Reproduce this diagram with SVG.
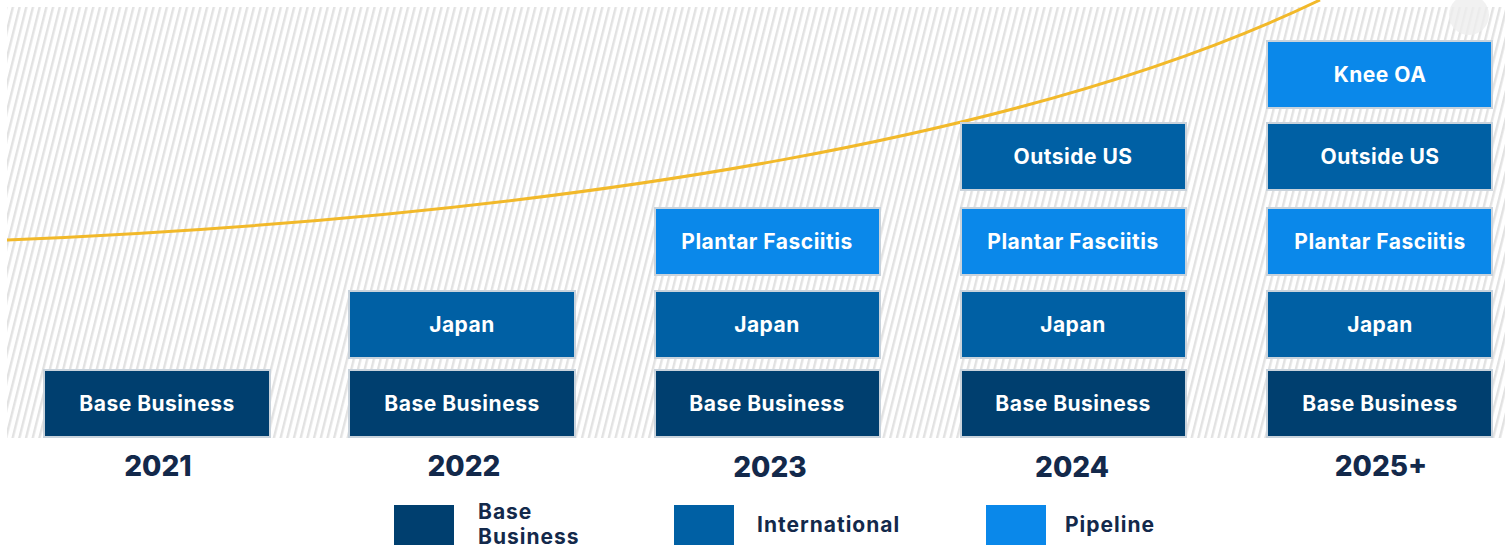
<svg xmlns="http://www.w3.org/2000/svg" width="1505" height="548" viewBox="0 0 1505 548">
<defs>
<pattern id="hatch" patternUnits="userSpaceOnUse" width="6.5" height="6.5" patternTransform="rotate(14)">
<rect width="6.5" height="6.5" fill="#ffffff"/>
<rect x="0" y="0" width="2.4" height="6.5" fill="#e2e2e2"/>
</pattern>
<style>
.box{stroke:#c9d3dc;stroke-width:2}
.base{fill:#003f6f}
.intl{fill:#0060a4}
.pipe{fill:#0a88ea}
.lbl{font-family:"Inter","Liberation Sans",sans-serif;font-weight:700;font-size:21px;letter-spacing:0.5px;fill:#ffffff;text-anchor:middle}
.year{font-family:"Inter","Liberation Sans",sans-serif;font-weight:800;font-size:28px;fill:#13294b;text-anchor:middle}
.leg{font-family:"Inter","Liberation Sans",sans-serif;font-weight:700;font-size:21px;letter-spacing:1px;fill:#13294b}
</style>
</defs>
<rect width="1505" height="548" fill="#ffffff"/>
<rect x="7" y="7" width="1498" height="431" fill="url(#hatch)"/>
<circle cx="1469" cy="15" r="20" fill="#eeeeee" opacity="0.8"/>
<g id="connectors">
<path d="M7,240 C600,215 1050,130 1320,0" fill="none" stroke="#f2b92a" stroke-width="3"/>
</g>
<g id="y2021">
<g id="n2021-base"><rect class="box base" x="44" y="370" width="226" height="67"/><text class="lbl" x="157" y="411">Base Business</text></g>
</g>
<g id="y2022">
<g id="n2022-japan"><rect class="box intl" x="349" y="291" width="226" height="67"/><text class="lbl" x="462" y="332">Japan</text></g>
<g id="n2022-base"><rect class="box base" x="349" y="370" width="226" height="67"/><text class="lbl" x="462" y="411">Base Business</text></g>
</g>
<g id="y2023">
<g id="n2023-pf"><rect class="box pipe" x="655" y="208" width="225" height="67"/><text class="lbl" x="767" y="249">Plantar Fasciitis</text></g>
<g id="n2023-japan"><rect class="box intl" x="655" y="291" width="225" height="67"/><text class="lbl" x="767" y="332">Japan</text></g>
<g id="n2023-base"><rect class="box base" x="655" y="370" width="225" height="67"/><text class="lbl" x="767" y="411">Base Business</text></g>
</g>
<g id="y2024">
<g id="n2024-ous"><rect class="box intl" x="961" y="123" width="225" height="67"/><text class="lbl" x="1073" y="164">Outside US</text></g>
<g id="n2024-pf"><rect class="box pipe" x="961" y="208" width="225" height="67"/><text class="lbl" x="1073" y="249">Plantar Fasciitis</text></g>
<g id="n2024-japan"><rect class="box intl" x="961" y="291" width="225" height="67"/><text class="lbl" x="1073" y="332">Japan</text></g>
<g id="n2024-base"><rect class="box base" x="961" y="370" width="225" height="67"/><text class="lbl" x="1073" y="411">Base Business</text></g>
</g>
<g id="y2025">
<g id="n2025-knee"><rect class="box pipe" x="1267" y="41" width="225" height="67"/><text class="lbl" x="1380" y="82">Knee OA</text></g>
<g id="n2025-ous"><rect class="box intl" x="1267" y="123" width="225" height="67"/><text class="lbl" x="1380" y="164">Outside US</text></g>
<g id="n2025-pf"><rect class="box pipe" x="1267" y="208" width="225" height="67"/><text class="lbl" x="1380" y="249">Plantar Fasciitis</text></g>
<g id="n2025-japan"><rect class="box intl" x="1267" y="291" width="225" height="67"/><text class="lbl" x="1380" y="332">Japan</text></g>
<g id="n2025-base"><rect class="box base" x="1267" y="370" width="225" height="67"/><text class="lbl" x="1380" y="411">Base Business</text></g>
</g>
<g id="years">
<text class="year" x="158" y="476">2021</text>
<text class="year" x="464" y="476">2022</text>
<text class="year" x="770" y="477">2023</text>
<text class="year" x="1072" y="477">2024</text>
<text class="year" x="1381" y="476">2025+</text>
</g>
<g id="legend">
<g id="leg-base"><rect class="base" x="394" y="505" width="60" height="40"/><text class="leg" x="478" y="519">Base</text><text class="leg" x="478" y="544">Business</text></g>
<g id="leg-intl"><rect class="intl" x="674" y="505" width="60" height="40"/><text class="leg" x="757" y="532">International</text></g>
<g id="leg-pipe"><rect class="pipe" x="986" y="505" width="60" height="40"/><text class="leg" x="1065" y="532">Pipeline</text></g>
</g>
</svg>
